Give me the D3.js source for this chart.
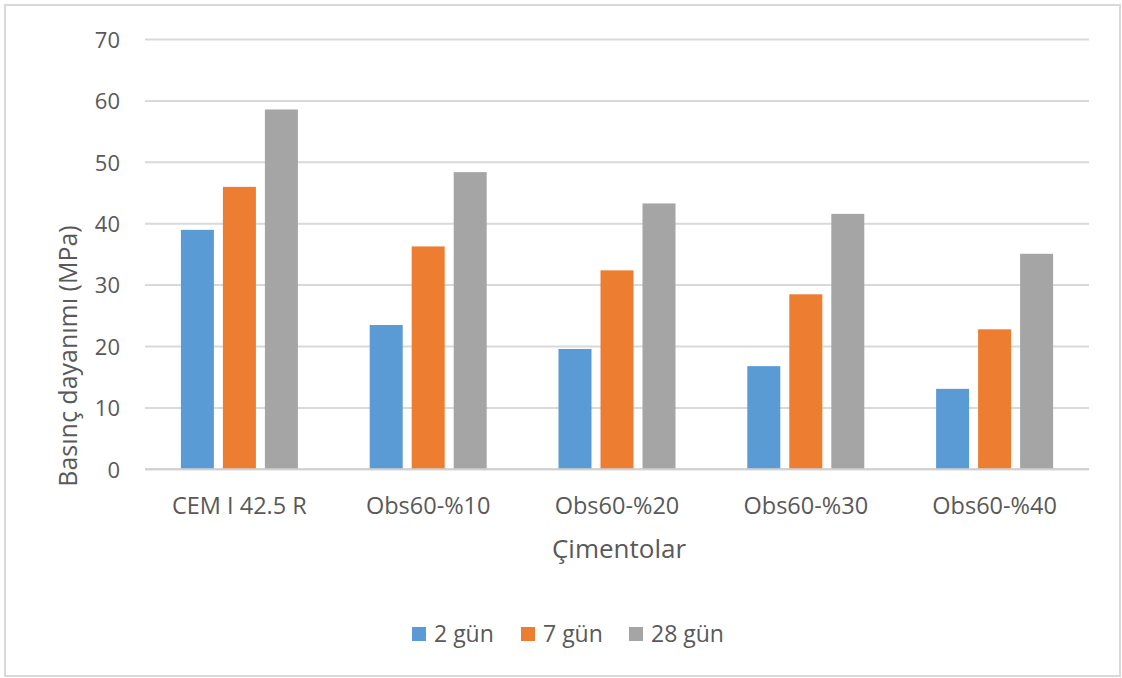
<!DOCTYPE html>
<html>
<head>
<meta charset="utf-8">
<script src="https://cdn.jsdelivr.net/npm/d3@7"></script>
<style>
  html, body { margin: 0; padding: 0; background: #ffffff; }
  svg { display: block; font-family: "Open Sans", "Noto Sans", sans-serif; }
</style>
</head>
<body>
<svg id="chart" width="1122" height="678"></svg>
<script>
// Compressive strength of cements at 2, 7 and 28 days
const categories = ["CEM I 42.5 R", "Obs60-%10", "Obs60-%20", "Obs60-%30", "Obs60-%40"];
const seriesNames = ["2 gün", "7 gün", "28 gün"];
const day2 = [39.0, 23.5, 19.6, 16.8, 13.1];
const day7 = [46.0, 36.3, 32.4, 28.5, 22.8];
const day28 = [58.6, 48.4, 43.3, 41.6, 35.1];
const yTicks = [0, 10, 20, 30, 40, 50, 60, 70];
const colors = ["#5b9bd5", "#ed7d31", "#a5a5a5"];

const seriesValues = [day2, day7, day28];

const svg = d3.select("#chart");
const textColor = "#595959";
const gridColor = "#d9d9d9";

// outer chart frame
svg.append("rect")
  .attr("x", 5).attr("y", 5)
  .attr("width", 1115).attr("height", 671)
  .attr("fill", "#ffffff")
  .attr("stroke", gridColor)
  .attr("stroke-width", 2);

const plot = { left: 145, right: 1089, top: 39.5, bottom: 469.3 };

const y = d3.scaleLinear().domain([0, 70]).range([plot.bottom, plot.top]);
const x0 = d3.scaleBand().domain(categories).range([plot.left, plot.right]);
const x1 = d3.scaleBand().domain(seriesNames).range([0, 126])
  .paddingInner(9 / 42).paddingOuter(4.5 / 42);

// horizontal gridlines
svg.append("g")
  .selectAll("line")
  .data(yTicks)
  .join("line")
  .attr("x1", plot.left).attr("x2", plot.right)
  .attr("y1", d => y(d)).attr("y2", d => y(d))
  .attr("stroke", gridColor)
  .attr("stroke-width", 2);

// y axis labels
const yAxis = d3.axisLeft(y).tickValues(yTicks).tickSize(0).tickPadding(0);
const yg = svg.append("g").attr("transform", `translate(${120},0)`).call(yAxis);
yg.select(".domain").remove();
yg.selectAll("text")
  .attr("fill", textColor)
  .attr("font-size", 22)
  .attr("font-family", "'Open Sans', sans-serif")
  .attr("dy", "0.35em");

// bars
const rows = categories.map((c, i) => ({
  cat: c,
  vals: seriesNames.map((s, j) => ({ s, v: seriesValues[j][i], color: colors[j] }))
}));

svg.append("g")
  .selectAll("g")
  .data(rows)
  .join("g")
  .attr("transform", d => `translate(${x0(d.cat) + x0.bandwidth() / 2 - 63},0)`)
  .selectAll("rect")
  .data(d => d.vals)
  .join("rect")
  .attr("x", d => x1(d.s))
  .attr("width", x1.bandwidth())
  .attr("y", d => y(d.v))
  .attr("height", d => y(0) - y(d.v))
  .attr("fill", d => d.color);

// baseline
svg.append("line")
  .attr("x1", plot.left).attr("x2", plot.right)
  .attr("y1", y(0)).attr("y2", y(0))
  .attr("stroke", "#d0d0d0")
  .attr("stroke-width", 2);

// category labels
const xAxis = d3.axisBottom(x0).tickSize(0).tickPadding(0);
const xg = svg.append("g").attr("transform", `translate(0,${514})`).call(xAxis);
xg.select(".domain").remove();
xg.selectAll("text")
  .attr("fill", textColor)
  .attr("font-size", 23.5)
  .attr("font-family", "'Open Sans', sans-serif")
  .attr("dy", 0)
  .attr("y", 0);

// axis titles
svg.append("text")
  .attr("x", (plot.left + plot.right) / 2 + 2)
  .attr("y", 558)
  .attr("text-anchor", "middle")
  .attr("fill", textColor)
  .attr("font-size", 26)
  .text("Çimentolar");

svg.append("text")
  .attr("transform", `translate(77,356) rotate(-90)`)
  .attr("text-anchor", "middle")
  .attr("fill", textColor)
  .attr("font-size", 25)
  .text("Basınç dayanımı (MPa)");

// legend
const legendItems = [
  { name: seriesNames[0], color: colors[0], x: 412 },
  { name: seriesNames[1], color: colors[1], x: 521 },
  { name: seriesNames[2], color: colors[2], x: 629 }
];
const lg = svg.append("g")
  .selectAll("g")
  .data(legendItems)
  .join("g")
  .attr("transform", d => `translate(${d.x},0)`);
lg.append("rect")
  .attr("x", 0).attr("y", 627)
  .attr("width", 14).attr("height", 14)
  .attr("fill", d => d.color);
lg.append("text")
  .attr("x", 22).attr("y", 642)
  .attr("fill", textColor)
  .attr("font-size", 23)
  .text(d => d.name);
</script>
</body>
</html>
